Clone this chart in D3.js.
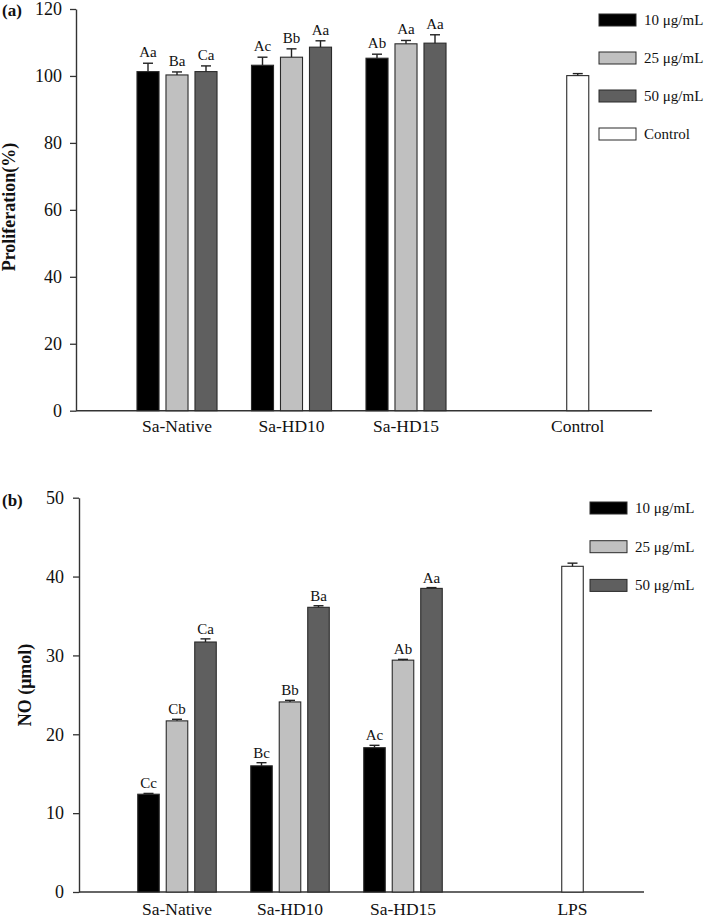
<!DOCTYPE html>
<html>
<head>
<meta charset="utf-8">
<script src="https://cdn.jsdelivr.net/npm/d3@7"></script>
<style>
  html, body { margin: 0; padding: 0; background: #fff; }
  svg { display: block; }
  text { font-family: "Liberation Serif", "DejaVu Serif", "Times New Roman", serif; fill: #111; }
</style>
</head>
<body>
<svg id="chart" width="708" height="918"></svg>
<script>
// ---------------- DATA ----------------
const categories = ["Sa-Native", "Sa-HD10", "Sa-HD15"];
const seriesNames = ["10 μg/mL", "25 μg/mL", "50 μg/mL"];
const seriesColors = ["#000000", "#c0c0c0", "#5f5f5f"];

// Panel (a): proliferation (%)
const prolif10 = [101.3, 103.2, 105.3];
const prolif25 = [100.3, 105.6, 109.6];
const prolif50 = [101.3, 108.6, 109.8];
const prolifErr10 = [2.5, 2.4, 1.2];
const prolifErr25 = [0.9, 2.5, 1.0];
const prolifErr50 = [1.7, 1.9, 2.5];
const prolifLetters10 = ["Aa", "Ac", "Ab"];
const prolifLetters25 = ["Ba", "Bb", "Aa"];
const prolifLetters50 = ["Ca", "Aa", "Aa"];
const prolifControlLabel = "Control";
const prolifControl = 100.1;
const prolifControlErr = 0.6;
const prolifTicks = [0, 20, 40, 60, 80, 100, 120];

// Panel (b): NO (μmol)
const no10 = [12.4, 16.0, 18.3];
const no25 = [21.7, 24.1, 29.4];
const no50 = [31.7, 36.1, 38.5];
const noErr10 = [0.1, 0.4, 0.3];
const noErr25 = [0.2, 0.2, 0.1];
const noErr50 = [0.4, 0.2, 0.1];
const noLetters10 = ["Cc", "Bc", "Ac"];
const noLetters25 = ["Cb", "Bb", "Ab"];
const noLetters50 = ["Ca", "Ba", "Aa"];
const noControlLabel = "LPS";
const noControl = 41.3;
const noControlErr = 0.4;
const noTicks = [0, 10, 20, 30, 40, 50];

// ---------------- DRAW ----------------
const svg = d3.select("#chart");
const AXIS_COLOR = "#333";
const BAR_STROKE = "#2a2a2a";
const SERIF = '"Liberation Serif", "DejaVu Serif", "Times New Roman", serif';

function drawPanel(p) {
  const g = svg.append("g");
  const y = d3.scaleLinear().domain([0, d3.max(p.ticks)]).range([p.y0, p.y1]);
  const gx = d3.scaleLinear().domain([0, 2]).range([p.g0, p.g2]);
  const inner = d3.scaleBand().domain(seriesNames)
    .range([-p.halfGroup, p.halfGroup]).paddingInner(p.padIn).paddingOuter(p.padIn / 2);
  const bw = inner.bandwidth();

  const bars = [];
  categories.forEach((c, i) => {
    seriesNames.forEach((s, j) => {
      bars.push({
        x: gx(i) + inner(s), value: p.values[j][i], err: p.errs[j][i],
        letter: p.letters[j][i], fill: seriesColors[j]
      });
    });
  });
  const cx = gx(p.controlIndex);
  const controlBar = { x: cx - bw / 2, value: p.control, err: p.controlErr, letter: null, fill: "#ffffff" };
  const allBars = bars.concat([controlBar]);

  const yAxis = d3.axisLeft(y).tickValues(p.ticks).tickSize(6).tickSizeOuter(0).tickPadding(p.tickPad);
  const ya = g.append("g").attr("transform", `translate(${p.axisX},0)`).call(yAxis);
  ya.attr("font-family", SERIF);
  ya.select(".domain").attr("stroke", AXIS_COLOR).attr("stroke-width", 1.4);
  ya.selectAll(".tick line").attr("stroke", AXIS_COLOR).attr("stroke-width", 1.3);
  ya.selectAll(".tick text")
    .style("font-family", SERIF)
    .style("font-size", "18px").attr("fill", "#111");

  g.append("line").attr("x1", p.axisX).attr("x2", p.axisEnd)
    .attr("y1", y(0)).attr("y2", y(0))
    .attr("stroke", AXIS_COLOR).attr("stroke-width", 1.4);

  g.selectAll("rect.bar").data(allBars).join("rect")
    .attr("class", "bar")
    .attr("x", d => d.x).attr("width", bw)
    .attr("y", d => y(d.value)).attr("height", d => y(0) - y(d.value))
    .attr("fill", d => d.fill).attr("stroke", BAR_STROKE).attr("stroke-width", 1.1);

  const eg = g.selectAll("g.err").data(allBars).join("g").attr("class", "err");
  eg.append("line")
    .attr("x1", d => d.x + bw / 2).attr("x2", d => d.x + bw / 2)
    .attr("y1", d => y(d.value)).attr("y2", d => y(d.value + d.err))
    .attr("stroke", "#222").attr("stroke-width", 1.4);
  eg.append("line")
    .attr("x1", d => d.x + bw / 2 - 5).attr("x2", d => d.x + bw / 2 + 5)
    .attr("y1", d => y(d.value + d.err)).attr("y2", d => y(d.value + d.err))
    .attr("stroke", "#222").attr("stroke-width", 1.4);

  g.selectAll("text.letter").data(bars).join("text")
    .attr("class", "letter")
    .attr("x", d => d.x + bw / 2).attr("y", d => y(d.value + d.err) - p.letterGap)
    .attr("text-anchor", "middle").style("font-size", "15px")
    .text(d => d.letter);

  const catData = categories.map((c, i) => ({ label: c, x: gx(i) }))
    .concat([{ label: p.controlLabel, x: cx }]);
  g.selectAll("text.cat").data(catData).join("text")
    .attr("class", "cat")
    .attr("x", d => d.x).attr("y", p.catY)
    .attr("text-anchor", "middle").style("font-size", "17.5px")
    .text(d => d.label);

  g.append("text")
    .attr("transform", `translate(${p.titleX},${p.titleY}) rotate(-90)`)
    .attr("text-anchor", "middle").style("font-size", "18px").style("font-weight", "bold")
    .text(p.yTitle);

  g.append("text").attr("x", 2).attr("y", p.tagY)
    .style("font-size", "17px").style("font-weight", "bold").text(p.tag);

  const legItems = seriesNames.map((s, j) => ({ label: s, fill: seriesColors[j] }));
  if (p.legendControl) legItems.push({ label: p.controlLabel, fill: "#ffffff" });
  const lg = g.selectAll("g.leg").data(legItems).join("g").attr("class", "leg")
    .attr("transform", (d, i) => `translate(${p.legX},${p.legY + i * p.legStep})`);
  lg.append("rect").attr("x", 0).attr("y", -6).attr("width", 37).attr("height", 12)
    .attr("fill", d => d.fill).attr("stroke", BAR_STROKE).attr("stroke-width", 1);
  lg.append("text").attr("x", 45).attr("y", 5)
    .style("font-size", "15px").text(d => d.label);
}

drawPanel({
  ticks: prolifTicks, y0: 410.7, y1: 9,
  g0: 177, g2: 406, halfGroup: 43.5, padIn: 0.24, controlIndex: 3.5,
  values: [prolif10, prolif25, prolif50],
  errs: [prolifErr10, prolifErr25, prolifErr50],
  letters: [prolifLetters10, prolifLetters25, prolifLetters50],
  control: prolifControl, controlErr: prolifControlErr, controlLabel: prolifControlLabel,
  axisX: 76, axisEnd: 652, tickPad: 8, letterGap: 6, catY: 432,
  yTitle: "Proliferation(%)", titleX: 15, titleY: 207,
  tag: "(a)", tagY: 16,
  legendControl: true, legX: 599, legY: 20, legStep: 38
});

drawPanel({
  ticks: noTicks, y0: 892, y1: 497.7,
  g0: 177, g2: 403, halfGroup: 42.75, padIn: 0.245, controlIndex: 3.5,
  values: [no10, no25, no50],
  errs: [noErr10, noErr25, noErr50],
  letters: [noLetters10, noLetters25, noLetters50],
  control: noControl, controlErr: noControlErr, controlLabel: noControlLabel,
  axisX: 79, axisEnd: 644, tickPad: 9, letterGap: 5, catY: 915,
  yTitle: "NO (μmol)", titleX: 31, titleY: 685,
  tag: "(b)", tagY: 506,
  legendControl: false, legX: 590, legY: 508, legStep: 38.7
});
</script>
</body>
</html>
